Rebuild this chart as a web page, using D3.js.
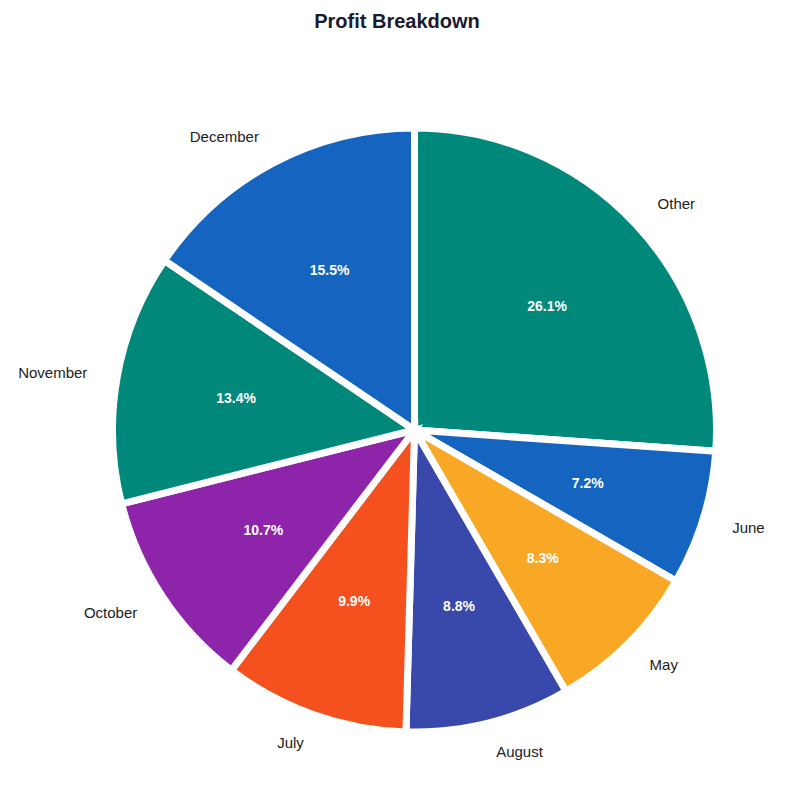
<!DOCTYPE html>
<html>
<head>
<meta charset="utf-8">
<script src="https://cdn.jsdelivr.net/npm/d3@7"></script>
<style>
  body { margin: 0; background: #fff; }
  text { font-family: "Liberation Sans", Arial, sans-serif; }
</style>
</head>
<body>
<div id="chart"></div>
<script>
// Datos del gráfico (en sentido horario desde las 12)
const labels = ["Other", "June", "May", "August", "July", "October", "November", "December"];
const values = [26.1, 7.2, 8.3, 8.8, 9.9, 10.7, 13.4, 15.5];
const colors = ["#00897B", "#1565C0", "#F9A825", "#3949AB", "#F4511E", "#8E24AA", "#00897B", "#1565C0"];

const width = 794, height = 810;
const cx = 414.5, cy = 430, r = 302;

const svg = d3.select("#chart").append("svg")
    .attr("width", width)
    .attr("height", height);

svg.append("text")
    .attr("x", width / 2)
    .attr("y", 28)
    .attr("text-anchor", "middle")
    .attr("font-size", 20)
    .attr("font-weight", "bold")
    .attr("fill", "#1a1a2e")
    .text("Profit Breakdown");

const total = d3.sum(values);
const pie = d3.pie().sort(null).value(d => d)(values);
const arc = d3.arc().innerRadius(0).outerRadius(r);
const labelArc = d3.arc().innerRadius(r * 1.1).outerRadius(r * 1.1);
const pctArc = d3.arc().innerRadius(r * 0.6).outerRadius(r * 0.6);

const g = svg.append("g").attr("transform", `translate(${cx},${cy})`);

g.selectAll("path")
    .data(pie)
    .enter().append("path")
    .attr("d", arc)
    .attr("fill", (d, i) => colors[i])
    .attr("stroke", "#fff")
    .attr("stroke-width", 7)
    .attr("stroke-linejoin", "miter");

g.selectAll(".pct")
    .data(pie)
    .enter().append("text")
    .attr("transform", d => `translate(${pctArc.centroid(d)})`)
    .attr("text-anchor", "middle")
    .attr("dy", "0.35em")
    .attr("font-size", 14)
    .attr("font-weight", "bold")
    .attr("fill", "#fff")
    .text(d => (d.value / total * 100).toFixed(1) + "%");

g.selectAll(".lbl")
    .data(pie)
    .enter().append("text")
    .attr("transform", d => `translate(${labelArc.centroid(d)})`)
    .attr("text-anchor", d => {
        const a = (d.startAngle + d.endAngle) / 2;
        return Math.sin(a) > 0.05 ? "start" : (Math.sin(a) < -0.05 ? "end" : "middle");
    })
    .attr("dy", "0.35em")
    .attr("font-size", 15)
    .attr("fill", "#222")
    .text((d, i) => labels[i]);
</script>
</body>
</html>
